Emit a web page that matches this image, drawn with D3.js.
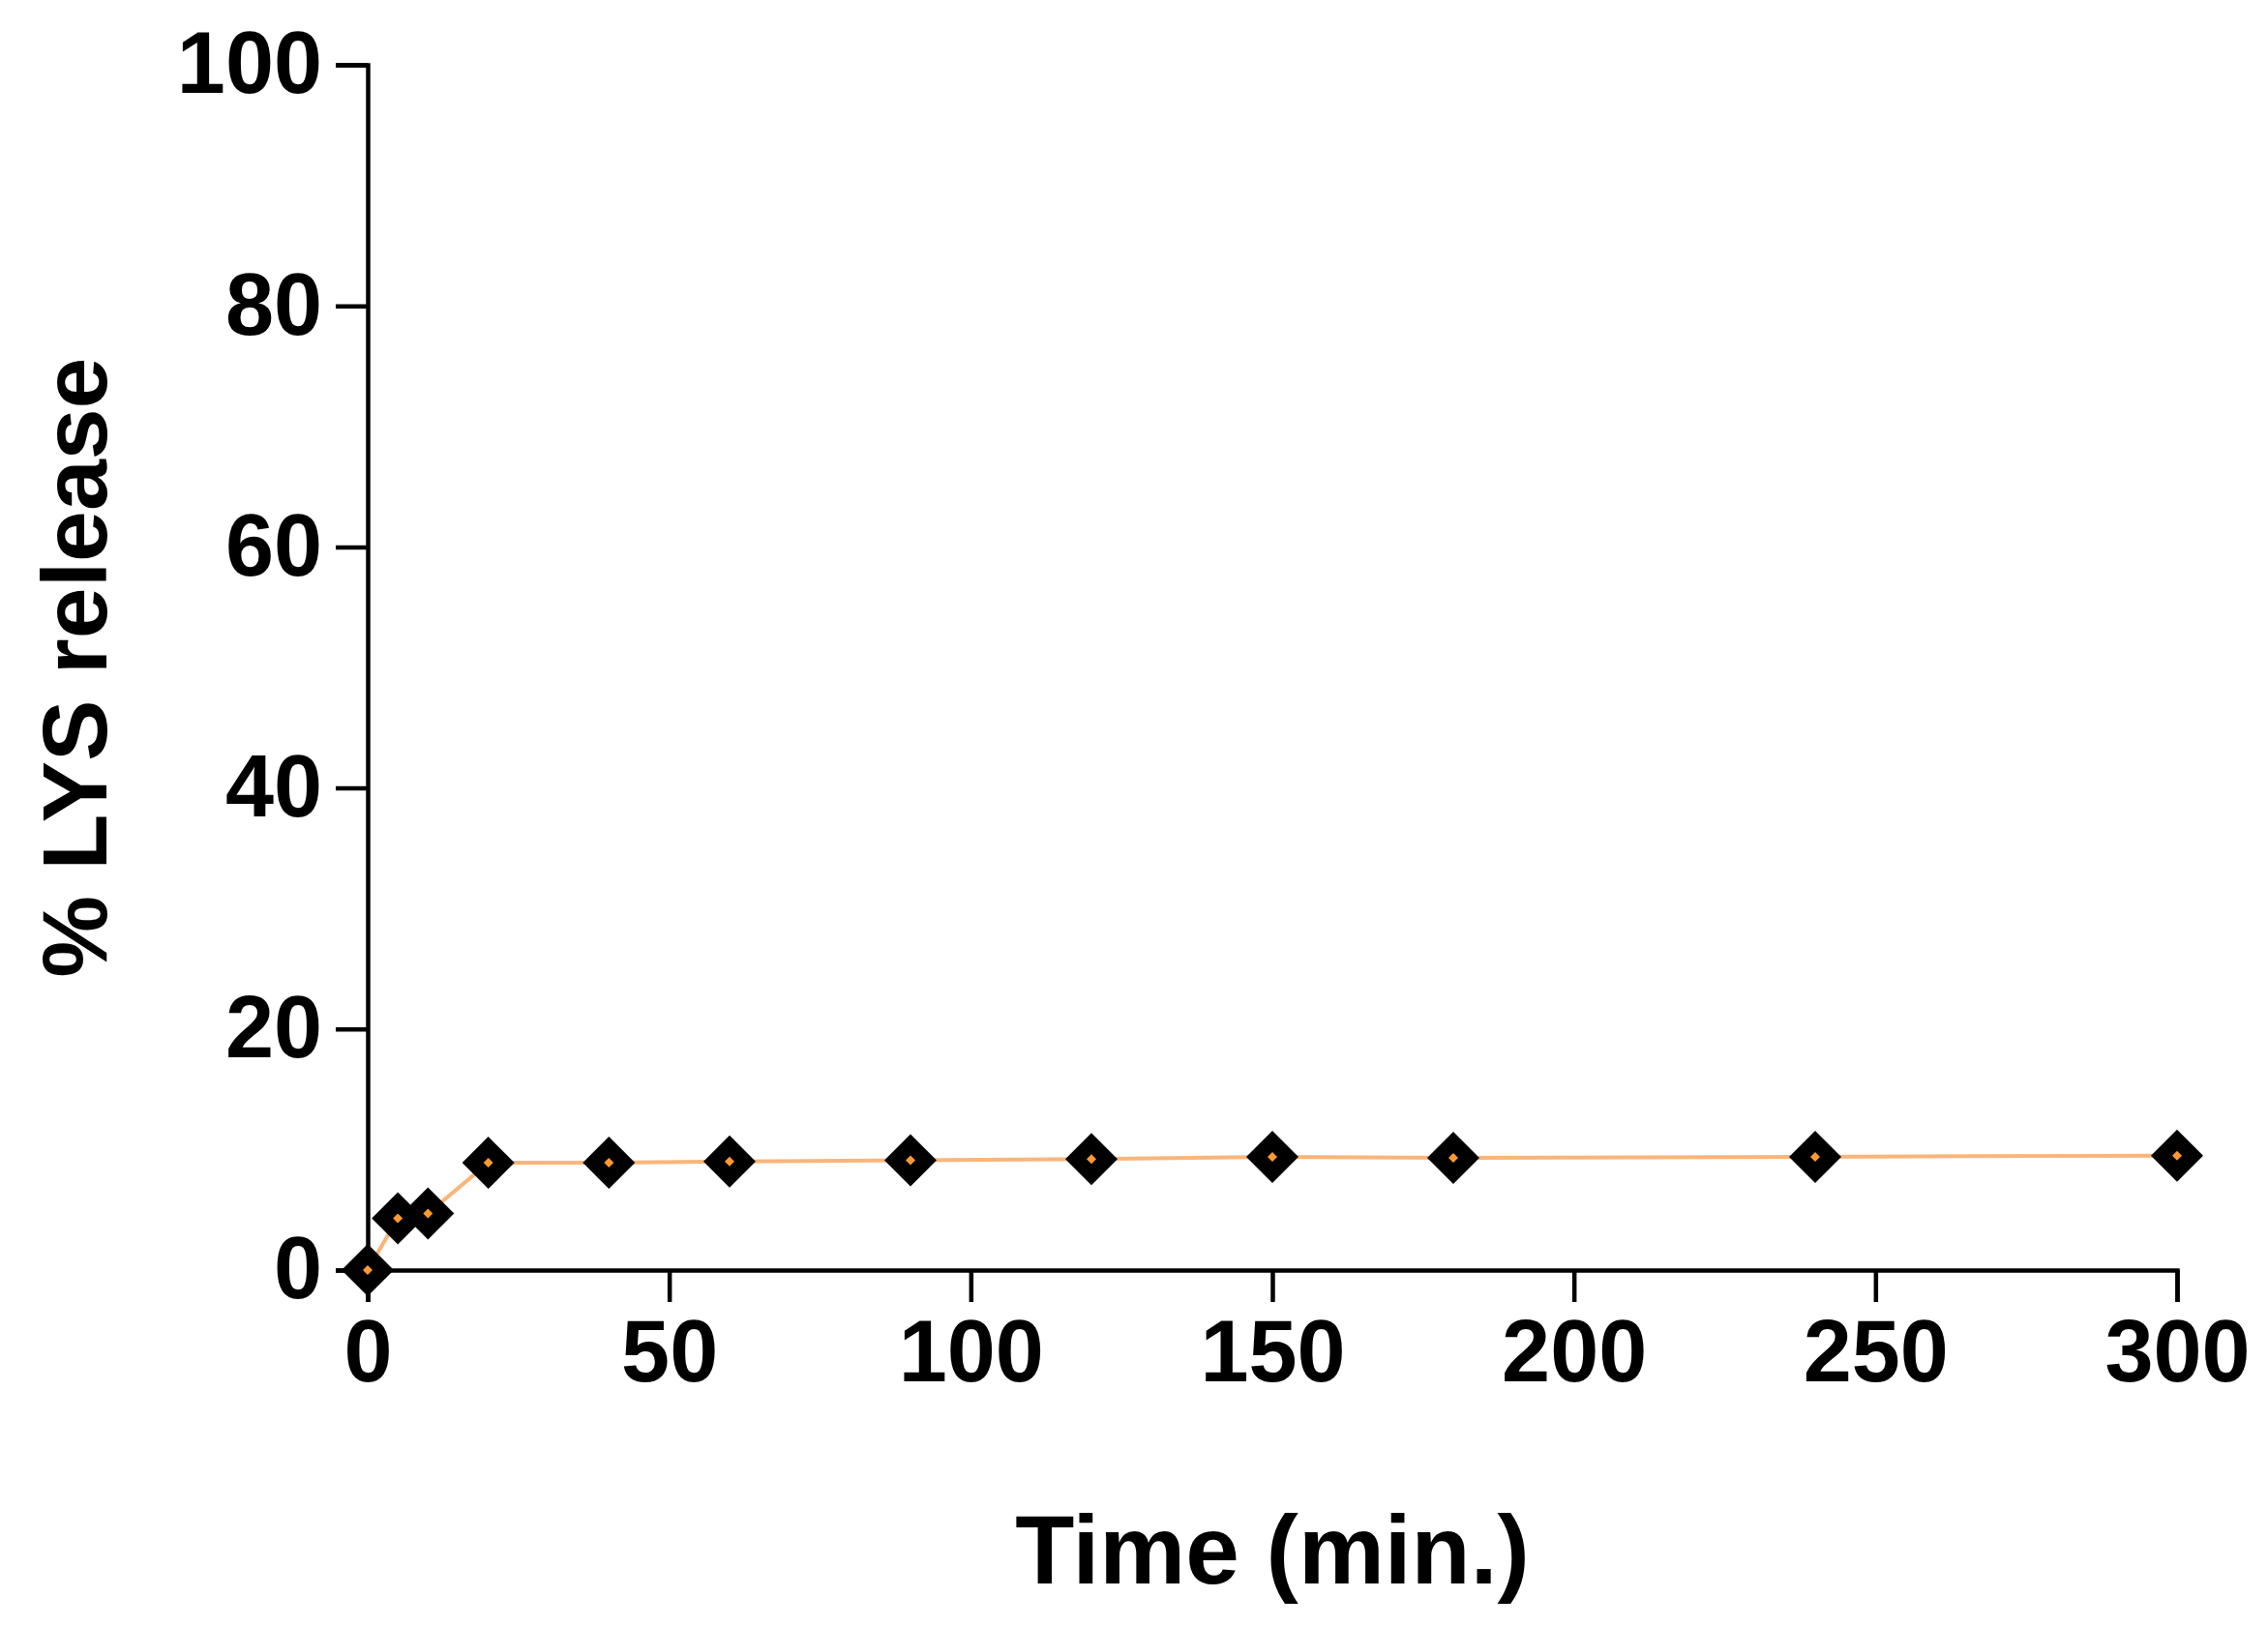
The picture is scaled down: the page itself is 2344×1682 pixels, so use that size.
<!DOCTYPE html>
<html>
<head>
<meta charset="utf-8">
<script src="https://cdn.jsdelivr.net/npm/d3@7"></script>
<style>
  body { margin: 0; background: #fff; }
  text { font-family: "Liberation Sans", Arial, sans-serif; font-weight: bold; }
</style>
</head>
<body>
<svg id="chart"></svg>
<script>
const times = [0, 5, 10, 20, 40, 60, 90, 120, 150, 180, 240, 300];
const release = [0, 4.3, 4.7, 8.9, 8.9, 9.0, 9.1, 9.2, 9.4, 9.3, 9.4, 9.5];
const xTicks = [0, 50, 100, 150, 200, 250, 300];
const yTicks = [0, 20, 40, 60, 80, 100];

const width = 2344;
const height = 1682;
const margin = { left: 380, right: 94, top: 67, bottom: 369 };

const svg = d3.select('#chart').attr('width', width).attr('height', height);

const x = d3.scaleLinear().domain([0, 300]).range([margin.left, width - margin.right]);
const y = d3.scaleLinear().domain([0, 100]).range([height - margin.bottom, margin.top]);

const xAxis = svg.append('g')
  .attr('transform', `translate(0,${y(0)})`)
  .call(d3.axisBottom(x).tickValues(xTicks).tickSize(33).tickPadding(18));

const yAxis = svg.append('g')
  .attr('transform', `translate(${x(0)},0)`)
  .call(d3.axisLeft(y).tickValues(yTicks).tickSize(33).tickPadding(14));

[xAxis, yAxis].forEach((g) => {
  g.selectAll('path').attr('stroke', '#000').attr('stroke-width', 4.5);
  g.selectAll('line').attr('stroke', '#000').attr('stroke-width', 4.5);
  g.selectAll('text').attr('font-size', 90).attr('fill', '#000');
});

const points = times.map((t, i) => ({ t, v: release[i] }));

svg.append('path')
  .datum(points)
  .attr('fill', 'none')
  .attr('stroke', '#f9b57a')
  .attr('stroke-width', 4)
  .attr('d', d3.line().x((d) => x(d.t)).y((d) => y(d.v)));

const marker = svg.append('g')
  .selectAll('g')
  .data(points)
  .join('g')
  .attr('transform', (d) => `translate(${x(d.t)},${y(d.v)})`);

marker.append('path')
  .attr('d', 'M0,-27L27,0L0,27L-27,0Z')
  .attr('fill', '#000');

marker.append('path')
  .attr('d', 'M0,-5L5,0L0,5L-5,0Z')
  .attr('fill', '#ff9a33');

svg.append('text')
  .attr('x', (x(0) + x(300)) / 2)
  .attr('y', 1637)
  .attr('text-anchor', 'middle')
  .attr('font-size', 100)
  .text('Time (min.)');

svg.append('text')
  .attr('transform', `translate(110,${(y(0) + y(100)) / 2}) rotate(-90)`)
  .attr('text-anchor', 'middle')
  .attr('font-size', 95)
  .text('% LYS release');
</script>
</body>
</html>
